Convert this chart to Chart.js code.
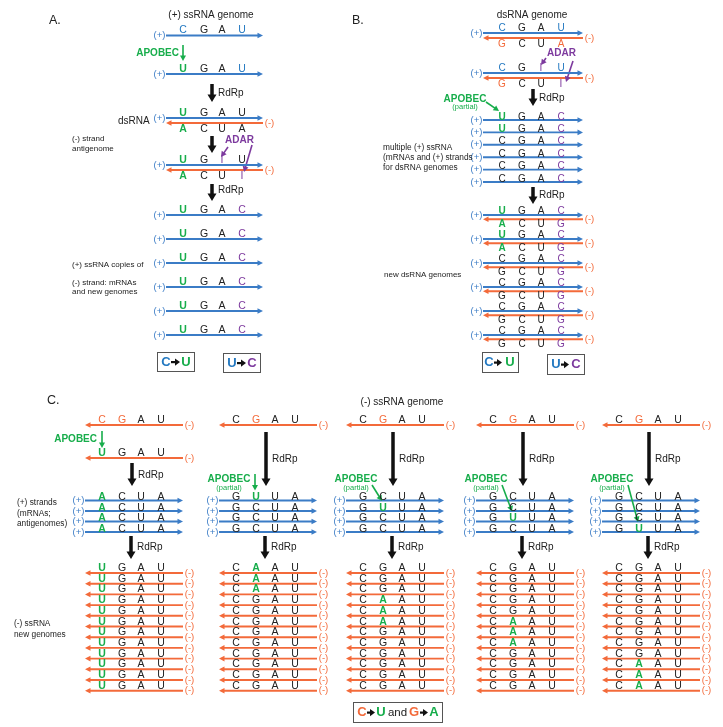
<!DOCTYPE html>
<html>
<head>
<meta charset="utf-8">
<script src="https://cdn.jsdelivr.net/npm/chart.js@4.4.1/dist/chart.umd.min.js"></script>
<style>html,body{margin:0;padding:0;background:#fff}canvas{display:block}</style>
</head>
<body>
<canvas id="fig" width="723" height="727"></canvas>
<script>
// colour codes used in the mark strings: b blue, g green, p purple, o orange, . black

// panel A: (+) ssRNA virus
const aSingle = ['CGAU', 'UGAU'];
const aSingleMarks = ['b..b', 'g..b'];
const aTop = ['UGAU', 'UGIU'];
const aTopMarks = ['g...', 'g.p.'];
const aBottom = ['ACUA', 'ACUI'];
const aBottomMarks = ['g...', 'g..p'];
const aCopies = ['UGAC', 'UGAC', 'UGAC', 'UGAC', 'UGAC', 'UGAC'];
const aCopiesMarks = ['g..p', 'g..p', 'g..p', 'g..p', 'g..p', 'g..p'];

// panel B: dsRNA virus
const bTop = ['CGAU', 'CGIU'];
const bTopMarks = ['b..b', 'b.pb'];
const bBottom = ['GCUA', 'GCUI'];
const bBottomMarks = ['o..o', 'o..p'];
const bPlus = ['UGAC', 'UGAC', 'CGAC', 'CGAC', 'CGAC', 'CGAC'];
const bPlusMarks = ['g..p', 'g..p', '...p', '...p', '...p', '...p'];
const bNewBottom = ['ACUG', 'ACUG', 'GCUG', 'GCUG', 'GCUG', 'GCUG'];
const bNewBottomMarks = ['g..p', 'g..p', '...p', '...p', '...p', '...p'];

// panel C: (-) ssRNA virus, five scenarios
const cGenome = 'CGAU';
const cGenomeMarks = ['oo..', '.o..', '.o..', '.o..', '.o..'];
const cEdited = 'UGAU';
const cPlusSeq = ['ACUA', 'GCUA', 'GCUA', 'GCUA', 'GCUA'];
const cPlusEdited = 'GUUA';
const cMinusEdited = 'CAAU';
const cApobecRow = [-1, 0, 1, 2, 3];
const cPlusCount = 4;
const cMinusCount = 12;
const cGtoARows = [[], [0, 1, 2], [3, 4, 5], [5, 6, 7], [9, 10, 11]];

// ---------- layout ----------
const blue = '#3b7cc6', orange = '#f36a3a', green = '#17ad4b', purple = '#7d3a9e';
const ink = '#222222', letterBlue = '#2479c1';
const markColor = { b: letterBlue, g: green, p: purple, o: orange, '.': ink };
const FONT = "'Liberation Sans', Arial, sans-serif";

const aX = [183, 204, 222, 242], aL = 166, aR = 263;
const bX = [502, 522, 541, 561], bL = 483, bR = 583;
const cFirst = [102, 236, 363, 493, 619], cStep = [0, 20, 39, 59];

const sets = [], glyphs = [], notes = [];

function line(pts, color, w, head) {
  return {
    data: pts.map(p => ({ x: p[0], y: p[1] })),
    borderColor: color, borderWidth: w, head: head,
    showLine: true, pointRadius: 0, borderCapStyle: 'butt'
  };
}
function arrow(x0, y0, x1, y1, color, w, L, hw) {
  const d = Math.hypot(x1 - x0, y1 - y0);
  sets.push(line([[x0, y0], [x1 - (x1 - x0) / d * L, y1 - (y1 - y0) / d * L]], color, w, [L, hw]));
}
function strand(l, r, y, sign) {
  if (sign > 0) {
    arrow(l, y, r, y, blue, 1.9, 5, 2.8);
    notes.push(['(+)', l - 6.5, y, blue, '9.5px', 'center']);
  } else {
    arrow(r, y, l, y, orange, 1.9, 5, 2.8);
    notes.push(['(-)', r + 6.5, y, orange, '9.5px', 'center']);
  }
}
function seq(xs, y, s, m, size) {
  for (let i = 0; i < s.length; i++) {
    glyphs.push({ t: s[i], x: xs[i], y: y, c: markColor[m[i]], bold: m[i] === 'g', size: size });
  }
}
function rdrp(x, y0, y1, ly) {
  arrow(x, y0, x, y1, '#111', 3.5, 7, 4.5);
  notes.push(['RdRp', x + 6, ly, ink, '10px', 'left']);
}

// panel A
const aSingleY = [35.5, 74];
aSingle.forEach((s, i) => {
  strand(aL, aR, aSingleY[i], 1);
  seq(aX, aSingleY[i] - 2.5, s, aSingleMarks[i], 10.5);
});
const aDuplexY = [118, 165];
aTop.forEach((s, i) => {
  const y = aDuplexY[i];
  strand(aL, aR, y, 1);
  strand(aL, aR, y + 5, -1);
  seq(aX, y - 2, s, aTopMarks[i], 10.5);
  seq(aX, y + 14, aBottom[i], aBottomMarks[i], 10.5);
});
aCopies.forEach((s, i) => {
  const y = 215 + 24 * i;
  strand(aL, aR, y, 1);
  seq(aX, y - 2, s, aCopiesMarks[i], 10.5);
});
arrow(183, 45, 183, 61, green, 1.6, 5, 3);
rdrp(212, 84, 102, 93);
arrow(212, 136, 212, 153, '#111', 3.5, 7, 4.5);
rdrp(212, 184, 201, 190);
arrow(228, 147, 221, 157, purple, 1.6, 5, 3);
arrow(252, 145, 244, 172, purple, 1.6, 5, 3);

// panel B
const bDuplexY = [33, 73];
bTop.forEach((s, i) => {
  const y = bDuplexY[i];
  strand(bL, bR, y, 1);
  strand(bL, bR, y + 5, -1);
  seq(bX, y - 2, s, bTopMarks[i], 10);
  seq(bX, y + 13.5, bBottom[i], bBottomMarks[i], 10);
});
bPlus.forEach((s, i) => {
  const y = 120 + 12.4 * i;
  strand(bL, bR, y, 1);
  seq(bX, y - 0.5, s, bPlusMarks[i], 10);
});
bPlus.forEach((s, i) => {
  const y = 215 + 24 * i;
  strand(bL, bR, y, 1);
  strand(bL, bR, y + 4.3, -1);
  seq(bX, y - 1, s, bPlusMarks[i], 10);
  seq(bX, y + 12.3, bNewBottom[i], bNewBottomMarks[i], 10);
});
arrow(546, 58, 541, 65, purple, 1.6, 5, 3);
arrow(573, 61, 566, 82, purple, 1.6, 5, 3);
arrow(486, 102, 499, 111, green, 1.6, 5, 3);
rdrp(533, 89, 106, 98);
rdrp(533, 187, 204, 195);

// panel C
cFirst.forEach((f, k) => {
  const xs = cStep.map(d => f + d), l = f - 17, r = f + 81, ax = f + 30;
  strand(l, r, 425, -1);
  seq(xs, 423, cGenome, cGenomeMarks[k], 10.5);
  if (k === 0) {
    notes.push(['APOBEC', f - 5, 439, green, 'bold 10px', 'right']);
    arrow(f, 431, f, 448, green, 1.6, 5, 3);
    strand(l, r, 458, -1);
    seq(xs, 455.5, cEdited, 'g...', 10.5);
    rdrp(ax, 463, 486, 475);
  } else {
    rdrp(ax, 432, 486, 459);
    notes.push(['APOBEC', f - 7, 479.5, green, 'bold 10px', 'center']);
    notes.push(['(partial)', f - 7, 487.5, green, '7.5px', 'center']);
    const row = cApobecRow[k], top = 500.5 + 10.5 * row - 10;
    if (row === 0) arrow(f + 19, 474, f + 19, top, green, 1.6, 5, 3);
    else arrow(f + 9, 485, f + 19, top, green, 1.6, 5, 3);
  }
  for (let i = 0; i < cPlusCount; i++) {
    const y = 500.5 + 10.5 * i;
    strand(l, r, y, 1);
    let s = cPlusSeq[k], m = '....';
    if (k === 0) m = 'g...';
    else if (i === cApobecRow[k]) { s = cPlusEdited; m = '.g..'; }
    seq(xs, y - 0.5, s, m, 10.5);
  }
  rdrp(ax - 1, 536, 559, 547);
  for (let i = 0; i < cMinusCount; i++) {
    const y = 573 + 10.7 * i;
    strand(l, r, y, -1);
    let s = cGenome, m = '....';
    if (k === 0) { s = cEdited; m = 'g...'; }
    else if (cGtoARows[k].includes(i)) { s = cMinusEdited; m = '.g..'; }
    seq(xs, y - 2, s, m, 10.5);
  }
});

notes.push(
  ['A.', 49, 21, ink, '12.5px', 'left'],
  ['B.', 352, 21, ink, '12.5px', 'left'],
  ['C.', 47, 401, ink, '12.5px', 'left'],
  ['(+) ssRNA genome', 211, 15, ink, '10px', 'center'],
  ['dsRNA genome', 532, 15, ink, '10px', 'center'],
  ['(-) ssRNA genome', 402, 402, ink, '10px', 'center'],
  ['APOBEC', 179, 53, green, 'bold 10px', 'right'],
  ['ADAR', 225, 140, purple, 'bold 10px', 'left'],
  ['ADAR', 547, 53, purple, 'bold 10px', 'left'],
  ['APOBEC', 465, 99, green, 'bold 10px', 'center'],
  ['(partial)', 465, 106.5, green, '7.5px', 'center'],
  ['dsRNA', 118, 121, ink, '10px', 'left'],
  ['(-) strand', 72, 139, ink, '8px', 'left'],
  ['antigenome', 72, 148.5, ink, '8px', 'left'],
  ['(+) ssRNA copies of', 72, 265, ink, '8px', 'left'],
  ['(-) strand: mRNAs', 72, 282.5, ink, '8px', 'left'],
  ['and new genomes', 72, 291.5, ink, '8px', 'left'],
  ['multiple (+) ssRNA', 383, 147.5, ink, '8.3px', 'left'],
  ['(mRNAs and (+) strands', 383, 157.5, ink, '8.3px', 'left'],
  ['for dsRNA genomes', 383, 168, ink, '8.3px', 'left'],
  ['new dsRNA genomes', 384, 275, ink, '8px', 'left'],
  ['(+) strands', 17, 503, ink, '8.3px', 'left'],
  ['(mRNAs;', 17, 513.5, ink, '8.3px', 'left'],
  ['antigenomes)', 17, 523.5, ink, '8.3px', 'left'],
  ['(-) ssRNA', 14, 624, ink, '8.3px', 'left'],
  ['new genomes', 14, 635, ink, '8.3px', 'left']
);

// legend boxes: [text, x, colour] or ['>', x0, x1] for a small arrow
const boxes = [
  { r: [157, 352, 194, 371], parts: [['C', 166, letterBlue], ['>', 171, 180], ['U', 186, green]] },
  { r: [223, 353, 260, 372], parts: [['U', 232, letterBlue], ['>', 237, 246], ['C', 252, purple]] },
  { r: [482, 352, 518, 372], parts: [['C', 489, letterBlue], ['>', 494, 502], ['U', 510, green]] },
  { r: [547, 354, 584, 374], parts: [['U', 556, letterBlue], ['>', 561, 569], ['C', 576, purple]] },
  { r: [353, 702, 442, 722], parts: [['C', 362, orange], ['>', 367, 375], ['U', 381, green], ['and', 397.5, ink],
                                      ['G', 414, orange], ['>', 420, 428], ['A', 434, green]] }
];

const figure = {
  id: 'figure',
  beforeDraw(chart) {
    const ctx = chart.ctx;
    ctx.save();
    ctx.fillStyle = '#fff';
    ctx.fillRect(0, 0, chart.width, chart.height);
    ctx.restore();
  },
  afterDatasetsDraw(chart) {
    const ctx = chart.ctx, sx = chart.scales.x, sy = chart.scales.y;
    const X = v => sx.getPixelForValue(v), Y = v => sy.getPixelForValue(v);
    ctx.save();
    // arrow heads
    chart.data.datasets.forEach((ds, i) => {
      if (!ds.head) return;
      const pts = chart.getDatasetMeta(i).data;
      const a = pts[pts.length - 2], b = pts[pts.length - 1];
      const d = Math.hypot(b.x - a.x, b.y - a.y) || 1;
      const cx = (b.x - a.x) / d, cy = (b.y - a.y) / d;
      const L = ds.head[0], hw = ds.head[1];
      ctx.beginPath();
      ctx.moveTo(b.x + cx * L, b.y + cy * L);
      ctx.lineTo(b.x - cx * 0.5 - cy * hw, b.y - cy * 0.5 + cx * hw);
      ctx.lineTo(b.x - cx * 0.5 + cy * hw, b.y - cy * 0.5 - cx * hw);
      ctx.closePath();
      ctx.fillStyle = ds.borderColor;
      ctx.fill();
    });
    // nucleotides
    ctx.textAlign = 'center';
    ctx.textBaseline = 'alphabetic';
    glyphs.forEach(g => {
      ctx.font = (g.bold ? 'bold ' : '') + g.size + 'px ' + FONT;
      ctx.fillStyle = g.c;
      ctx.fillText(g.t, X(g.x), Y(g.y));
    });
    // labels
    ctx.textBaseline = 'middle';
    notes.forEach(n => {
      ctx.font = n[4] + ' ' + FONT;
      ctx.fillStyle = n[3];
      ctx.textAlign = n[5];
      ctx.fillText(n[0], X(n[1]), Y(n[2]));
    });
    // boxes
    boxes.forEach(b => {
      const x0 = X(b.r[0]), y0 = Y(b.r[1]), x1 = X(b.r[2]), y1 = Y(b.r[3]);
      const ym = (y0 + y1) / 2 + 0.5;
      ctx.strokeStyle = '#555';
      ctx.lineWidth = 1;
      ctx.strokeRect(x0 + 0.5, y0 + 0.5, x1 - x0, y1 - y0);
      b.parts.forEach(p => {
        if (p[0] === '>') {
          const a0 = X(p[1]), a1 = X(p[2]);
          ctx.fillStyle = '#111';
          ctx.fillRect(a0, ym - 1, a1 - a0 - 4, 2.2);
          ctx.beginPath();
          ctx.moveTo(a1, ym + 0.1);
          ctx.lineTo(a1 - 5, ym - 3.5);
          ctx.lineTo(a1 - 5, ym + 3.7);
          ctx.closePath();
          ctx.fill();
        } else {
          ctx.font = (p[0] === 'and' ? '11.5px ' : 'bold 13px ') + FONT;
          ctx.fillStyle = p[2];
          ctx.textAlign = 'center';
          ctx.fillText(p[0], X(p[1]), ym);
        }
      });
    });
    ctx.restore();
  }
};

new Chart(document.getElementById('fig').getContext('2d'), {
  type: 'scatter',
  data: { datasets: sets },
  options: {
    responsive: false,
    devicePixelRatio: 1,
    animation: false,
    events: [],
    layout: { padding: 0 },
    plugins: { legend: { display: false }, tooltip: { enabled: false } },
    scales: {
      x: { type: 'linear', min: 0, max: 723, display: false },
      y: { type: 'linear', min: 0, max: 727, reverse: true, display: false }
    }
  },
  plugins: [figure]
});
</script>
</body>
</html>
